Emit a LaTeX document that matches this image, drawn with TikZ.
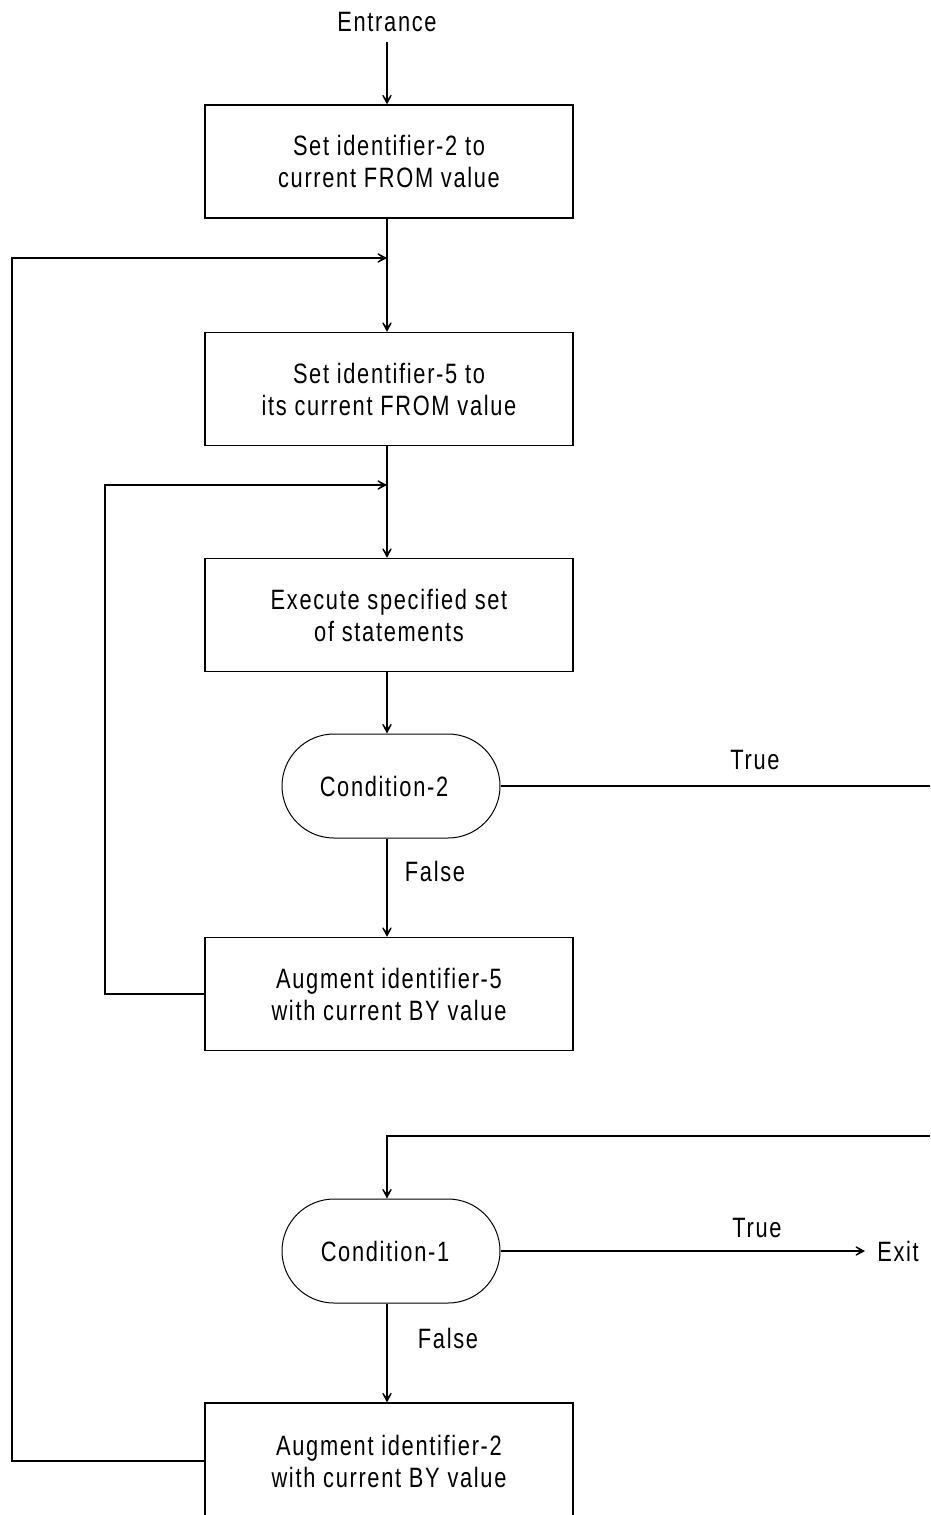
\documentclass[tikz,border=0pt]{standalone}
\usepackage{fontspec}
\setmainfont{Liberation Sans}[FakeStretch=0.78,LetterSpace=6]
\usetikzlibrary{arrows.meta,shapes.misc}
\begin{document}
\begin{tikzpicture}[x=1pt,y=-1pt,
  every node/.style={font=\fontsize{28}{32}\selectfont, inner sep=0pt},
  stepbox/.style={draw, line width=1.2pt, minimum width=368pt, minimum height=113pt, align=center},
  decision/.style={draw, line width=1pt, rounded rectangle, rounded rectangle arc length=180,
                   minimum width=218pt, minimum height=104pt},
  flow/.style={line width=1.2pt, -{Stealth[length=15pt,width=16pt,inset=10.5pt]}},
  wire/.style={line width=1.2pt}]
\useasboundingbox (0,0) rectangle (930,1515);
\clip (0,0) rectangle (930,1515);

% main column
\coordinate (spine) at (387,0);
\node (entry) at (387,22) {Entrance};
\node[stepbox] (b1) at (389,161.5) {Set identifier-2 to\\current FROM value};
\node[stepbox] (b2) at (389,389) {Set identifier-5 to\\its current FROM value};
\node[stepbox] (b3) at (389,615) {Execute specified set\\of statements};
\node[decision] (c2) at (391,786) {Condition-2\hspace*{14pt}};
\node[stepbox] (b4) at (389,994) {Augment identifier-5\\with current BY value};
\node[decision] (c1) at (391,1251) {Condition-1\hspace*{12pt}};
\node[stepbox, minimum height=116pt] (b5) at (389,1461) {Augment identifier-2\\with current BY value};
\node (exit) at (898,1251) {Exit};

% branch labels
\node (t2) at (755,760) {True};
\node (f2) at (435,871) {False};
\node (t1) at (757,1228) {True};
\node (f1) at (448,1338) {False};

% loop return points and free ends
\coordinate (rail1) at (12,258);
\coordinate (merge1) at (387,258);
\coordinate (rail2) at (105,485);
\coordinate (merge2) at (387,485);
\coordinate (edge2) at (930,786);
\coordinate (edge1) at (930,1136);
\coordinate (drop) at (387,1136);

% straight flow
\draw[flow] ([yshift=-10pt]entry.south) -- (b1.north -| spine);
\draw[flow] (b1.south -| spine) -- (b2.north -| spine);
\draw[flow] (b2.south -| spine) -- (b3.north -| spine);
\draw[flow] (b3.south -| spine) -- (c2.north -| spine);
\draw[flow] (c2.south -| spine) -- (b4.north -| spine);
\draw[flow] (c1.south -| spine) -- (b5.north -| spine);

% loops
\draw[flow] (b5.west) -| (rail1) -- (merge1);
\draw[flow] (b4.west) -| (rail2) -- (merge2);

% condition exits
\draw[wire] (c2.east) -- (edge2);
\draw[flow] (edge1) -- (drop) -- (c1.north -| spine);
\draw[flow] (c1.east) -- ([xshift=-12pt]exit.west);
\end{tikzpicture}
\end{document}
